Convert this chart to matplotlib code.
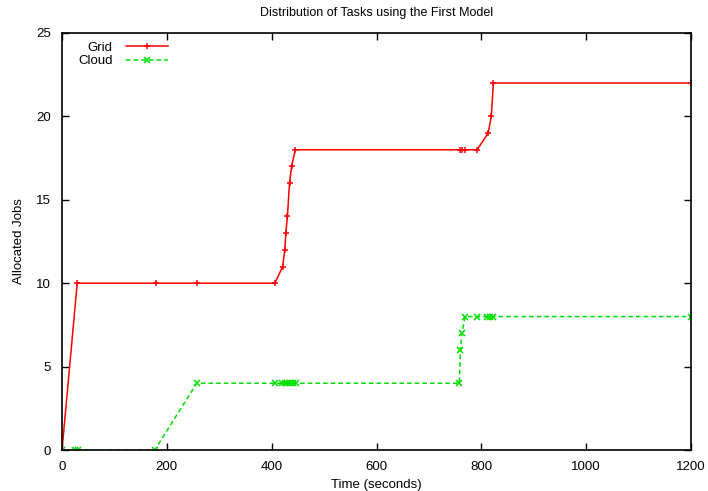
import matplotlib
matplotlib.use("Agg")
import matplotlib.pyplot as plt

plt.rcParams['font.family'] = ['Liberation Sans', 'DejaVu Sans']

# Grid series (time in seconds, allocated jobs)
grid_t = [0, 29, 179, 257, 406, 421, 425, 427, 430, 434, 438, 445, 760, 764, 768, 792, 813, 819, 823, 1200]
grid_jobs = [0, 10, 10, 10, 10, 11, 12, 13, 14, 16, 17, 18, 18, 18, 18, 18, 19, 20, 22, 22]

# Cloud series
cloud_t = [0, 25, 31, 177, 257, 407, 420, 425, 430, 435, 440, 447, 758, 760, 763, 769, 791, 810, 817, 823, 1200]
cloud_jobs = [0, 0, 0, 0, 4, 4, 4, 4, 4, 4, 4, 4, 4, 6, 7, 8, 8, 8, 8, 8, 8]

fig = plt.figure(figsize=(7.08, 4.91), dpi=100)
ax = fig.add_axes([0.0876, 0.0835, 0.8884, 0.8493])

ax.plot(grid_t, grid_jobs, color='#ff0000', linestyle='-', linewidth=1.1,
        marker='+', markersize=5, markeredgewidth=1.1, label='Grid')
ax.plot(cloud_t, cloud_jobs, color='#00e000', linestyle=(0, (3, 2)), linewidth=1.1,
        marker='x', markersize=4, markeredgewidth=1.1, label='Cloud')

ax.set_xlim(0, 1200)
ax.set_ylim(0, 25)
ax.set_xticks([0, 200, 400, 600, 800, 1000, 1200])
ax.set_yticks([0, 5, 10, 15, 20, 25])
ax.tick_params(direction='in', top=True, right=True, labelsize=9.5, length=5, width=1)
ax.tick_params(axis='x', pad=8)
ax.tick_params(axis='y', pad=8)
for s in ax.spines.values():
    s.set_linewidth(1.2)

ax.set_title('Distribution of Tasks using the First Model', fontsize=9, pad=12)
ax.set_xlabel('Time (seconds)', fontsize=9.5, labelpad=4)
ax.set_ylabel('Allocated Jobs', fontsize=9.5, labelpad=8)

ax.legend(loc='upper left', frameon=False, markerfirst=False, fontsize=9.5,
          handlelength=3.2, borderaxespad=0.25, labelspacing=0.1, handletextpad=1.0,
          bbox_to_anchor=(0.012, 1.0))

fig.savefig('out.png', dpi=100)
